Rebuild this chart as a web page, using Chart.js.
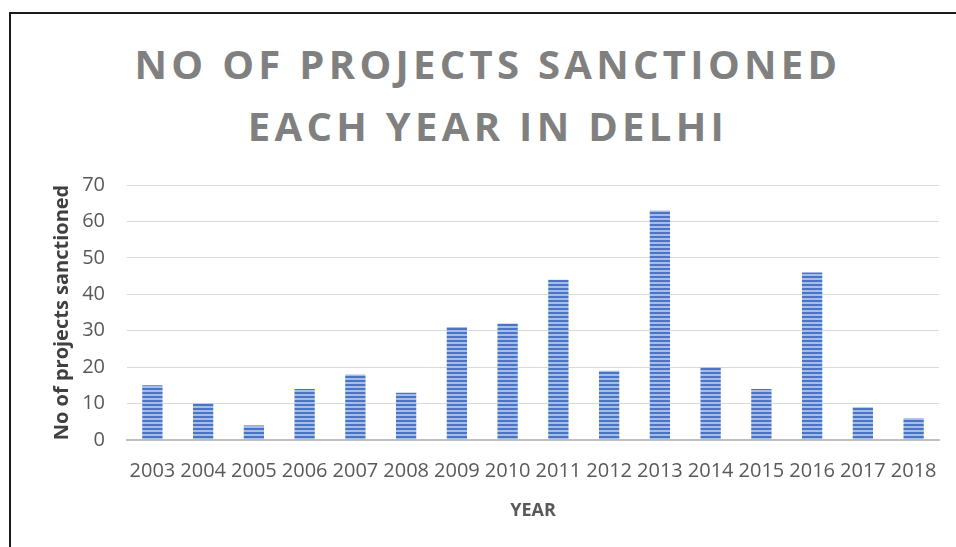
<!DOCTYPE html>
<html>
<head>
<meta charset="utf-8">
<script src="https://cdn.jsdelivr.net/npm/chart.js@4"></script>
<style>
    html, body { margin: 0; padding: 0; background: #fff; overflow: hidden; }
    #frame {
        position: absolute; left: 9px; top: 12px;
        width: 1000px; height: 600px;
        border-left: 2px solid #1a1a1a; border-top: 2px solid #1a1a1a;
    }
    #title {
        position: absolute; left: 0; top: 33px; width: 976px;
        text-align: center;
        font-family: "Open Sans", sans-serif; font-weight: bold;
        font-size: 40px; line-height: 62px; letter-spacing: 4.3px;
        color: #808080;
    }
    #wrap { position: absolute; left: 0; top: 0; width: 956px; height: 547px; }
</style>
</head>
<body>
<div id="frame"></div>
<div id="title">NO OF PROJECTS SANCTIONED<br>EACH YEAR IN DELHI</div>
<div id="wrap"><canvas id="projectsChart" width="956" height="547"></canvas></div>
<script>
const years = ['2003', '2004', '2005', '2006', '2007', '2008', '2009', '2010',
    '2011', '2012', '2013', '2014', '2015', '2016', '2017', '2018'];
const projectsSanctioned = [15, 10, 4, 14, 18, 13, 31, 32, 44, 19, 63, 20, 14, 46, 9, 6];
const yTicks = [0, 10, 20, 30, 40, 50, 60, 70];

function stripePattern(ctx) {
    const p = document.createElement('canvas');
    p.width = 4;
    p.height = 4;
    const pc = p.getContext('2d');
    pc.fillStyle = '#4a75c6';
    pc.fillRect(0, 0, 4, 2);
    pc.fillStyle = '#a7bde6';
    pc.fillRect(0, 2, 4, 2);
    return ctx.createPattern(p, 'repeat');
}

const canvas = document.getElementById('projectsChart');
const ctx = canvas.getContext('2d');

new Chart(ctx, {
    type: 'bar',
    data: {
        labels: years,
        datasets: [{
            label: 'No of projects sanctioned',
            data: projectsSanctioned,
            backgroundColor: stripePattern(ctx),
            borderWidth: 0,
            barPercentage: 0.4,
            categoryPercentage: 1.0
        }]
    },
    options: {
        responsive: false,
        animation: false,
        layout: {
            padding: { top: 185, right: 16, bottom: 27, left: 46 }
        },
        plugins: {
            legend: { display: false },
            tooltip: { enabled: false }
        },
        scales: {
            x: {
                grid: { display: false, drawTicks: false },
                border: { color: '#bfbfbf', width: 2 },
                ticks: {
                    autoSkip: false,
                    maxRotation: 0,
                    padding: 19,
                    color: '#595959',
                    font: { family: 'Open Sans', size: 20 }
                },
                title: {
                    display: true,
                    text: 'YEAR',
                    color: '#595959',
                    padding: { top: 0, bottom: 0 },
                    font: { family: 'Open Sans', size: 18, weight: 'bold', lineHeight: 1.0 }
                }
            },
            y: {
                min: 0,
                max: 70,
                afterBuildTicks: function(axis) {
                    axis.ticks = yTicks.map(v => ({ value: v }));
                },
                afterFit: function(axis) {
                    axis.width = 81;
                },
                grid: { color: '#d9d9d9', lineWidth: 1, drawTicks: false },
                border: { display: false },
                ticks: {
                    padding: 22,
                    color: '#595959',
                    font: { family: 'Open Sans', size: 20 }
                },
                title: {
                    display: true,
                    text: 'No of projects sanctioned',
                    color: '#404040',
                    padding: { bottom: 6 },
                    font: { family: 'Open Sans', size: 20, weight: 'bold' }
                }
            }
        }
    }
});
</script>
</body>
</html>
